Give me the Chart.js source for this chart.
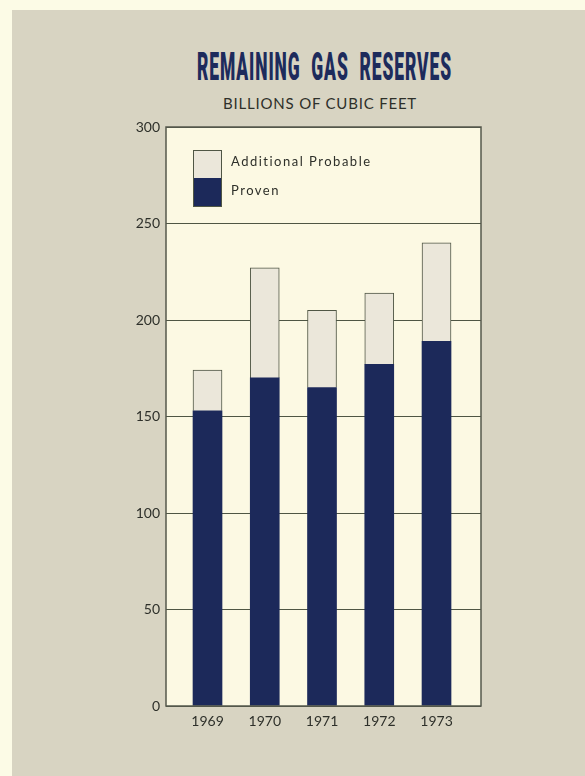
<!DOCTYPE html>
<html>
<head>
<meta charset="utf-8">
<script src="https://cdn.jsdelivr.net/npm/chart.js@4"></script>
<style>
  html, body { margin: 0; padding: 0; }
  body { width: 585px; height: 776px; background: #fcfbe6; position: relative; overflow: hidden; }
  #panel { position: absolute; left: 12px; top: 10px; right: 0; bottom: 0; background: #d8d4c2; }
  #wrap { position: absolute; left: 0; top: 0; width: 585px; height: 776px; }
  #title { position: absolute; left: 197px; top: 45px; white-space: nowrap; transform-origin: 0 0;
           font-family: Roboto, sans-serif; font-weight: 900; font-size: 38px; color: #1d2b5c; letter-spacing: 2px; word-spacing: 12px; }
  #subtitle { position: absolute; left: 0; width: 640px; top: 94px; text-align: center;
              font-family: Lato, sans-serif; font-size: 15px; color: #2e302a; letter-spacing: 0.8px; }
</style>
</head>
<body>
<div id="panel"></div>
<div id="title">REMAINING GAS RESERVES</div>
<div id="subtitle">BILLIONS OF CUBIC FEET</div>
<div id="wrap"><canvas id="chart" width="585" height="776"></canvas></div>
<script>
const years = [1969, 1970, 1971, 1972, 1973];
const proven = [153, 170, 165, 177, 189];
const additional = [21, 57, 40, 37, 51];
const yTicks = [0, 50, 100, 150, 200, 250, 300];

const navy = "#1c295a";
const pale = "#ebe7da";
const ink = "#2e302a";
const rule = "#4f5644";

// squeeze the heading into a tall condensed look
const titleEl = document.getElementById("title");
titleEl.style.transform = `scaleX(${255 / titleEl.offsetWidth})`;

// plot background, frame and the in-plot key
const framePlugin = {
    id: "frame",
    beforeDraw(chart) {
        const { ctx, chartArea: a } = chart;
        ctx.save();
        ctx.fillStyle = "#fcf9e3";
        ctx.fillRect(a.left, a.top, a.right - a.left, a.bottom - a.top);
        ctx.restore();
    },
    afterDraw(chart) {
        const { ctx, chartArea: a } = chart;
        ctx.save();
        ctx.strokeStyle = "#55584c";
        ctx.lineWidth = 1.5;
        ctx.strokeRect(a.left, a.top, a.right - a.left, a.bottom - a.top);

        const bx = a.left + 27, by = a.top + 23, bw = 29, bh = 28;
        ctx.fillStyle = pale;
        ctx.fillRect(bx, by, bw, bh);
        ctx.fillStyle = navy;
        ctx.fillRect(bx, by + bh, bw, bh + 1);
        ctx.strokeStyle = rule;
        ctx.lineWidth = 1;
        ctx.strokeRect(bx + 0.5, by + 0.5, bw - 1, bh * 2);

        ctx.fillStyle = ink;
        ctx.font = "13px Lato, sans-serif";
        ctx.letterSpacing = "1.5px";
        ctx.textBaseline = "middle";
        ctx.fillText("Additional Probable", bx + bw + 9, by + 12);
        ctx.fillText("Proven", bx + bw + 9, by + bh + 13);
        ctx.restore();
    }
};

new Chart(document.getElementById("chart"), {
    type: "bar",
    data: {
        datasets: [
            {
                label: "Proven",
                data: years.map((y, i) => ({ x: y, y: proven[i] })),
                backgroundColor: navy,
                borderWidth: 0,
                barThickness: 29
            },
            {
                label: "Additional Probable",
                data: years.map((y, i) => ({ x: y, y: additional[i] })),
                backgroundColor: pale,
                borderColor: rule,
                borderWidth: 1,
                borderSkipped: "bottom",
                barThickness: 29
            }
        ]
    },
    plugins: [framePlugin],
    options: {
        responsive: false,
        animation: false,
        layout: { padding: { left: 120, top: 127, right: 104, bottom: 40 } },
        plugins: {
            legend: { display: false },
            tooltip: { enabled: false }
        },
        scales: {
            x: {
                type: "linear",
                stacked: true,
                offset: false,
                min: 1968.275,
                max: 1973.777,
                afterBuildTicks: (scale) => { scale.ticks = years.map(v => ({ value: v })); },
                afterFit: (scale) => { scale.height = 30; },
                grid: { display: false, drawTicks: false, offset: false },
                border: { display: false },
                ticks: {
                    padding: 7,
                    color: ink,
                    font: { family: "Lato, sans-serif", size: 14 },
                    callback: (v) => String(v)
                }
            },
            y: {
                stacked: true,
                min: 0,
                max: 300,
                afterBuildTicks: (scale) => { scale.ticks = yTicks.map(v => ({ value: v })); },
                afterFit: (scale) => { scale.width = 46; },
                grid: { color: rule, lineWidth: 1, drawTicks: false },
                border: { display: false },
                ticks: {
                    padding: 6,
                    color: ink,
                    font: { family: "Lato, sans-serif", size: 14 }
                }
            }
        }
    }
});
</script>
</body>
</html>
